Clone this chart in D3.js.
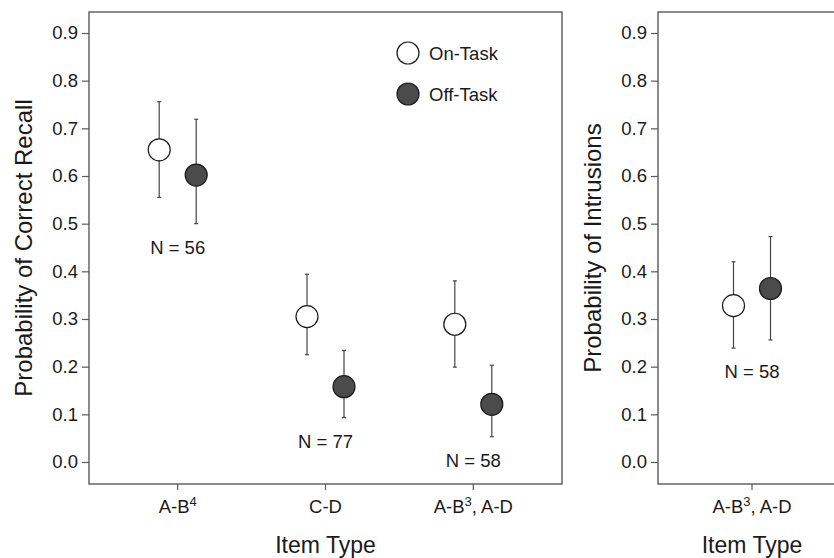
<!DOCTYPE html>
<html>
<head>
<meta charset="utf-8">
<script src="https://cdn.jsdelivr.net/npm/d3@7"></script>
<style>
  body { margin: 0; background: #fff; }
  svg { font-family: "Liberation Sans", Arial, sans-serif; }
</style>
</head>
<body>
<svg id="chart" width="834" height="558"></svg>
<script>
// categories use ^ to mark the superscript digit
let recallCategories = ["A-B^4", "C-D", "A-B^3, A-D"]
let recallOnMean = [0.655, 0.305, 0.289]
let recallOnLow = [0.555, 0.225, 0.199]
let recallOnHigh = [0.756, 0.394, 0.380]
let recallOffMean = [0.602, 0.158, 0.121]
let recallOffLow = [0.500, 0.093, 0.053]
let recallOffHigh = [0.719, 0.234, 0.203]
let recallN = [56, 77, 58]

let intrusionCategories = ["A-B^3, A-D"]
let intrusionOnMean = [0.328]
let intrusionOnLow = [0.239]
let intrusionOnHigh = [0.420]
let intrusionOffMean = [0.364]
let intrusionOffLow = [0.256]
let intrusionOffHigh = [0.473]
let intrusionN = [58]

let yTicks = [0, 0.1, 0.2, 0.3, 0.4, 0.5, 0.6, 0.7, 0.8, 0.9]
let seriesNames = ["On-Task", "Off-Task"]

let svg = d3.select("#chart")
let frameColor = "#5a5a5a"
let offFill = "#4b4b4b"
let textColor = "#1a1a1a"
let smallFont = 18.5

function buildRows(cats, onM, onL, onH, offM, offL, offH) {
    let rows = []
    cats.forEach((c, i) => {
        rows.push({ cat: c, series: "On-Task", mean: onM[i], low: onL[i], high: onH[i] })
        rows.push({ cat: c, series: "Off-Task", mean: offM[i], low: offL[i], high: offH[i] })
    })
    return rows
}

function drawPanel(left, width, cats, rows, nValues, yTitle, padding) {
    let top = 12, bottom = 484
    let g = svg.append("g")

    let y = d3.scaleLinear().domain([0, 0.9]).range([462, 33])
    let x = d3.scalePoint().domain(cats).range([left, left + width]).padding(padding)
    let offset = d3.scalePoint().domain(seriesNames).range([-18.5, 18.5])

    // frame
    g.append("rect")
        .attr("x", left).attr("y", top)
        .attr("width", width).attr("height", bottom - top)
        .attr("fill", "none")
        .attr("stroke", frameColor)
        .attr("stroke-width", 1.4)

    // y axis
    let yAxis = g.append("g")
        .attr("transform", `translate(${left},0)`)
        .call(d3.axisLeft(y).tickValues(yTicks).tickFormat(d3.format(".1f")).tickSize(7).tickPadding(4))
    yAxis.select(".domain").remove()
    yAxis.selectAll(".tick line").attr("stroke", frameColor).attr("stroke-width", 1.2)
    yAxis.selectAll(".tick text").attr("font-size", smallFont).attr("fill", textColor)
        .attr("font-family", "Liberation Sans, Arial, sans-serif")

    // x ticks
    let xTick = g.selectAll(".xtick").data(cats).enter().append("g")
        .attr("transform", d => `translate(${x(d)},${bottom})`)
    xTick.append("line").attr("y1", 0).attr("y2", 6)
        .attr("stroke", frameColor).attr("stroke-width", 1.2)
    xTick.each(function (d) {
        let parts = d.split("^")
        let t = d3.select(this).append("text")
            .attr("y", 29).attr("text-anchor", "middle")
            .attr("font-size", smallFont).attr("fill", textColor)
        t.append("tspan").text(parts[0])
        if (parts.length > 1) {
            t.append("tspan").attr("font-size", 13).attr("dy", -7).text(parts[1].charAt(0))
            t.append("tspan").attr("dy", 7).text(parts[1].slice(1))
        }
    })

    // titles
    g.append("text")
        .attr("x", left + width / 2).attr("y", 553)
        .attr("text-anchor", "middle")
        .attr("font-size", 23).attr("fill", textColor)
        .text("Item Type")
    g.append("text")
        .attr("transform", `translate(${left - 57},${(top + bottom) / 2}) rotate(-90)`)
        .attr("text-anchor", "middle")
        .attr("font-size", 24).attr("fill", textColor)
        .text(yTitle)

    // error bars
    let eb = g.selectAll(".eb").data(rows).enter().append("g")
        .attr("transform", d => `translate(${x(d.cat) + offset(d.series)},0)`)
    eb.append("line")
        .attr("y1", d => y(d.low)).attr("y2", d => y(d.high))
        .attr("stroke", "#444").attr("stroke-width", 1.2)
    eb.append("line")
        .attr("x1", -2).attr("x2", 2)
        .attr("y1", d => y(d.high)).attr("y2", d => y(d.high))
        .attr("stroke", "#444").attr("stroke-width", 1.2)
    eb.append("line")
        .attr("x1", -2).attr("x2", 2)
        .attr("y1", d => y(d.low)).attr("y2", d => y(d.low))
        .attr("stroke", "#444").attr("stroke-width", 1.2)

    // points
    g.selectAll(".pt").data(rows).enter().append("circle")
        .attr("cx", d => x(d.cat) + offset(d.series))
        .attr("cy", d => y(d.mean))
        .attr("r", 11)
        .attr("fill", d => d.series === "On-Task" ? "#fff" : offFill)
        .attr("stroke", textColor)
        .attr("stroke-width", 1.2)

    // N labels below lowest error bar end
    g.selectAll(".nlab").data(cats).enter().append("text")
        .attr("x", d => x(d))
        .attr("y", d => {
            let lows = rows.filter(r => r.cat === d).map(r => r.low)
            return y(d3.min(lows)) + 30
        })
        .attr("text-anchor", "middle")
        .attr("font-size", smallFont).attr("fill", textColor)
        .text((d, i) => "N = " + nValues[i])

    return { x, y }
}

let recallRows = buildRows(recallCategories, recallOnMean, recallOnLow, recallOnHigh, recallOffMean, recallOffLow, recallOffHigh)
let intrusionRows = buildRows(intrusionCategories, intrusionOnMean, intrusionOnLow, intrusionOnHigh, intrusionOffMean, intrusionOffLow, intrusionOffHigh)

drawPanel(89, 473, recallCategories, recallRows, recallN, "Probability of Correct Recall", 0.6)
drawPanel(658, 188, intrusionCategories, intrusionRows, intrusionN, "Probability of Intrusions", 0.5)

// legend
let legend = svg.append("g").selectAll("g").data(seriesNames).enter().append("g")
    .attr("transform", (d, i) => `translate(408,${53 + i * 41})`)
legend.append("circle")
    .attr("r", 11)
    .attr("fill", d => d === "On-Task" ? "#fff" : offFill)
    .attr("stroke", textColor).attr("stroke-width", 1.2)
legend.append("text")
    .attr("x", 21).attr("y", 6.5)
    .attr("font-size", smallFont).attr("fill", textColor)
    .text(d => d)
</script>
</body>
</html>
